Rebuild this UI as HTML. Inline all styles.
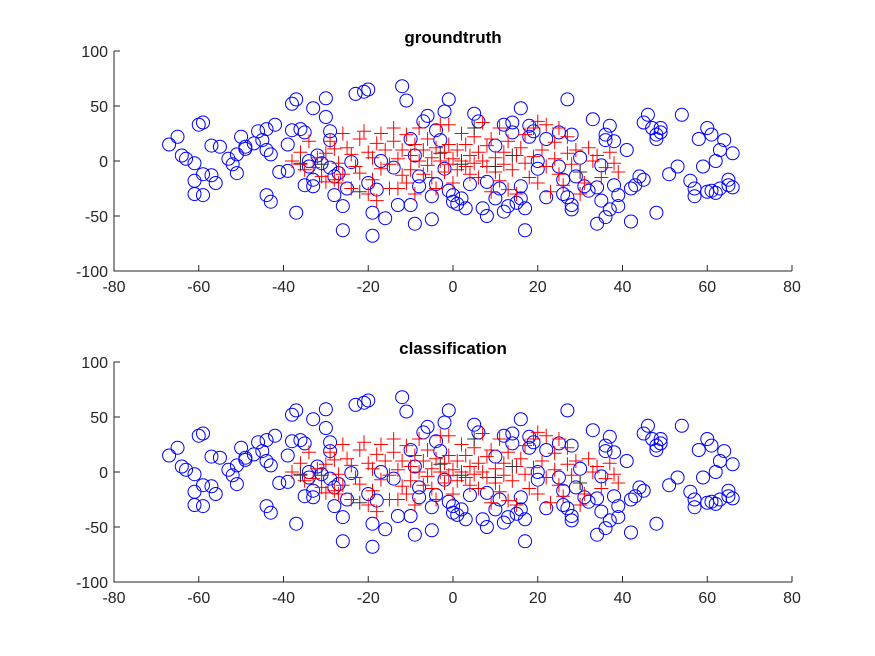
<!DOCTYPE html>
<html><head><meta charset="utf-8"><style>
body{margin:0;background:#fff;}
svg{display:block;font-family:"Liberation Sans",sans-serif;}
</style></head><body>
<svg id="fig" width="875" height="656" viewBox="0 0 875 656"></svg>
<script>
const circleX=[-67,-65,-64,-63,-61,-60,-59,-61,-59,-59,-57,-56,-57,-55,-53,-52,-51,-51,-50,-49,-49,-47,-46,-45,-44,-44,-44,-43,-43,-41,-42,-39,-39,-38,-38,-37,-37,-36,-35,-35,-34,-34,-33,-33,-33,-32,-31,-30,-30,-29,-29,-29,-28,-28,-27,-26,-26,-25,-24,-23,-21,-20,-19,-19,-20,-18,-17,-16,-14,-13,-12,-11,-10,-9,-8,-8,-7,-6,-5,-5,-4,-4,-3,-2,-1,-2,-1,0,0,1,2,3,4,5,6,7,8,8,10,10,11,12,12,13,14,14,15,16,16,16,17,17,18,18,19,20,20,22,22,25,25,26,26,27,27,28,28,28,29,30,31,32,33,34,34,35,35,36,36,36,37,37,38,38,39,39,41,42,42,43,44,45,45,46,47,48,48,48,49,49,51,53,54,56,57,57,58,59,60,60,61,61,62,63,63,64,65,65,66,66,62,-61,-9,-10];
const circleY=[15,22,5,2,-2,33,35,-18,-12,-31,-13,-20,14,13,2,-3,-11,6,22,11,13,16,27,19,29,10,-31,-37,6,-10,33,-9,15,28,52,56,-47,29,26,-22,0,-5,48,-17,-23,5,-2,57,40,27,19,-6,-14,-31,-11,-41,-63,-25,-1,61,63,65,-47,-68,-20,-26,0,-52,-6,-40,68,55,20,5,-23,-14,36,41,-32,-53,28,-21,19,-7,-27,45,56,-37,-31,-39,-34,-43,-21,43,36,-43,-19,-50,-34,14,-25,-46,33,-41,26,35,-38,-34,-23,48,-63,-43,32,22,27,0,-7,-33,20,26,-5,-17,-30,-33,56,-44,-40,24,-14,3,-23,-27,38,-57,-24,-36,-4,-51,24,19,32,-44,18,-22,-41,-31,10,-25,-55,-22,-14,-17,35,42,30,20,24,-47,30,26,-12,-5,42,-18,-25,-32,20,-5,30,-28,-27,24,0,-25,10,19,-17,-22,-24,7,-29,-30,-57,-40];
const plusX=[-38,-36,-35,-33,-32,-31,-30,-30,-29,-28,-28,-27,-26,-26,-25,-24,-24,-23,-22,-22,-21,-20,-20,-19,-19,-18,-17,-17,-16,-15,-15,-14,-14,-13,-12,-12,-11,-11,-10,-10,-9,-9,-8,-8,-7,-7,-6,-6,-5,-5,-4,-4,-3,-3,-2,-2,-1,-1,0,0,1,1,2,2,3,3,4,4,5,5,6,6,7,7,8,8,9,9,10,10,11,12,12,13,13,14,15,15,16,17,17,18,19,19,20,21,22,22,23,24,24,25,26,27,27,28,29,30,31,32,33,34,35,36,37,38,39,-34,-36,-27,-18,-13,-1,11,20,30,25];
const plusY=[0,-3,-8,-6,3,-14,7,-19,18,11,-17,-20,-12,25,12,6,-25,-5,20,-11,27,-30,8,3,-17,16,-7,25,10,-3,-25,30,18,2,-13,10,24,-20,5,-8,15,-30,30,0,-12,10,20,-4,3,-15,12,-25,0,33,-10,8,15,-3,2,-20,10,-8,0,25,-5,15,5,-12,-2,22,8,-15,35,0,-5,14,20,-28,3,-10,-18,8,-3,18,-26,-8,5,-30,12,-2,24,-15,4,30,-20,10,-5,33,-28,2,17,-12,-22,7,22,-3,10,-10,-20,12,0,5,-15,-6,8,-2,-10,18,8,-2,-36,-25,33,30,36,-30,30];
const darkX=[-36,-31,-3,2,10,30,5,-22,14];
const darkY=[-2,-3,7,-3,-5,-10,30,-28,5];
const ticksX=[-80,-60,-40,-20,0,20,40,60,80];
const ticksY=[-100,-50,0,50,100];
const titles=["groundtruth","classification"];
const NS="http://www.w3.org/2000/svg";
const svg=document.getElementById('fig');
function mk(tag,attrs,parent){const e=document.createElementNS(NS,tag);for(const k in attrs)e.setAttribute(k,attrs[k]);parent.appendChild(e);return e;}
const L=114,R=792;
const tops=[51,362];
titles.forEach((t,pi)=>{
  const T=tops[pi],B=T+220;
  const g=mk('g',{},svg);
  
  
  const sx=v=>L+(v+80)/160*(R-L);
  const sy=v=>B-(v+100)/200*(B-T);
  const ax=mk('path',{d:`M${L},${T}V${B}H${R}`,stroke:'#262626',fill:'none','stroke-width':1},g);
  
  
  ticksX.forEach(v=>{
    const x=sx(v);
    mk('line',{x1:x,x2:x,y1:B,y2:B-6,stroke:'#262626'},g);
    const tx=mk('text',{x:x,y:B+21,'text-anchor':'middle','font-size':16,fill:'#262626'},g);
    tx.textContent=v;
    
    
  });
  ticksY.forEach(v=>{
    const y=sy(v);
    mk('line',{x1:L,x2:L+6,y1:y,y2:y,stroke:'#262626'},g);
    const ty=mk('text',{x:L-6,y:y+6,'text-anchor':'end','font-size':16,fill:'#262626'},g);
    ty.textContent=v;
    
    
  });
  const tt=mk('text',{x:(L+R)/2,y:T-8,'text-anchor':'middle','font-size':17,'font-weight':'bold',fill:'#000'},g);
  tt.textContent=t;
  
  
  circleX.forEach((v,i)=>{
    const c=mk('circle',{cx:sx(v),cy:sy(circleY[i]),r:6.5,fill:'none',stroke:'#0000ff','stroke-width':1},g);
    
    
  });
  const plus=(xs,ys,col,name)=>xs.forEach((v,i)=>{
    const x=sx(v),y=sy(ys[i]);
    const p=mk('path',{d:`M${x-7},${y}H${x+7}M${x},${y-7}V${y+7}`,stroke:col,'stroke-width':1},g);
    
    
  });
  plus(plusX,plusY,'#ff0000','plus-point');
  plus(darkX,darkY,'#333333','dark-plus-point');
});
</script>
</body></html>
